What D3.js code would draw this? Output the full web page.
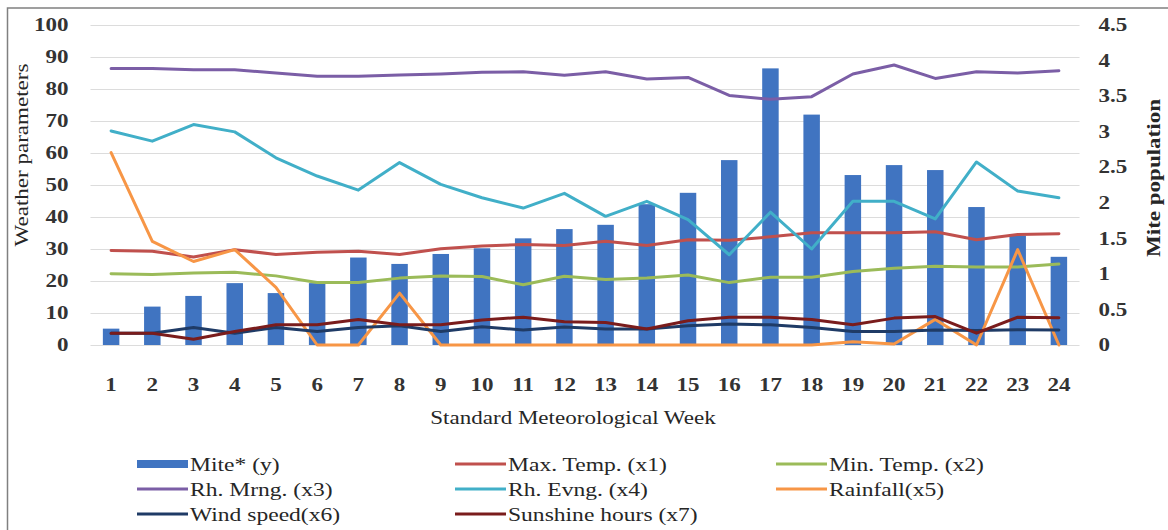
<!DOCTYPE html>
<html>
<head>
<meta charset="utf-8">
<script src="https://cdn.jsdelivr.net/npm/d3@7"></script>
<style>
  body { margin: 0; background: #fff; }
  text { font-family: "Liberation Serif", "Times New Roman", serif; fill: #262626; }
</style>
</head>
<body>
<div id="chart"></div>
<script>
// data
var weeks = d3.range(1, 25).map(String);
var mite = [0.23, 0.54, 0.69, 0.87, 0.73, 0.87, 1.23, 1.14, 1.28, 1.36, 1.50, 1.63,
            1.69, 1.98, 2.14, 2.60, 3.89, 3.24, 2.39, 2.53, 2.46, 1.94, 1.54, 1.24];
var maxTemp = [29.5, 29.3, 27.5, 29.8, 28.3, 29.0, 29.3, 28.3, 30.1, 30.9, 31.4, 31.1,
               32.4, 31.1, 32.9, 32.7, 33.8, 35.1, 35.1, 35.1, 35.4, 32.9, 34.5, 34.8];
var minTemp = [22.3, 22.0, 22.5, 22.7, 21.6, 19.5, 19.5, 20.9, 21.6, 21.4, 18.8, 21.5,
               20.5, 20.9, 21.9, 19.5, 21.2, 21.2, 23.0, 24.0, 24.6, 24.4, 24.4, 25.3];
var rhMrng = [86.4, 86.4, 86.0, 86.0, 85.0, 84.0, 84.0, 84.4, 84.7, 85.2, 85.4, 84.3,
              85.4, 83.1, 83.6, 78.0, 76.8, 77.6, 84.7, 87.5, 83.3, 85.4, 85.0, 85.7];
var rhEvng = [66.9, 63.7, 68.9, 66.6, 58.5, 52.8, 48.4, 57.0, 50.2, 46.0, 42.8, 47.4,
              40.2, 44.9, 39.2, 28.2, 41.5, 30.0, 44.9, 44.9, 39.4, 57.2, 48.1, 46.0];
var rainfall = [60.1, 32.4, 26.1, 29.8, 18.0, 0, 0, 16.2, 0, 0, 0, 0,
                0, 0, 0, 0, 0, 0, 1.0, 0.3, 8.0, 0, 29.8, 0];
var windSpeed = [3.7, 3.7, 5.5, 3.7, 5.5, 4.2, 5.5, 6.0, 4.2, 5.7, 4.7, 5.6,
                 5.0, 5.0, 6.0, 6.6, 6.3, 5.5, 4.2, 4.2, 4.7, 4.5, 4.8, 4.7];
var sunshine = [3.7, 3.7, 1.8, 4.2, 6.3, 6.3, 8.0, 6.3, 6.3, 7.8, 8.7, 7.3,
                7.0, 5.0, 7.6, 8.7, 8.7, 8.0, 6.3, 8.4, 8.9, 3.7, 8.7, 8.5];

var leftTicks = d3.range(0, 101, 10);
var rightTicks = [0, 0.5, 1, 1.5, 2, 2.5, 3, 3.5, 4, 4.5];

var lineSeries = [
  {name: "Max. Temp. (x1)", values: maxTemp, color: "#c0504d"},
  {name: "Min. Temp. (x2)", values: minTemp, color: "#9bbb59"},
  {name: "Rh. Mrng. (x3)", values: rhMrng, color: "#7b5ea6"},
  {name: "Rh. Evng. (x4)", values: rhEvng, color: "#41afc8"},
  {name: "Rainfall(x5)", values: rainfall, color: "#f79646"},
  {name: "Wind speed(x6)", values: windSpeed, color: "#1f3b66"},
  {name: "Sunshine hours (x7)", values: sunshine, color: "#7a1c1c"}
];

var svgWidth = 1168, svgHeight = 530;
var plotLeft = 90.5, plotRight = 1079.5, plotTop = 25, plotBottom = 345;
var sx = 1.28; // wide serif look of the source

var svg = d3.select("#chart").append("svg")
    .attr("width", svgWidth).attr("height", svgHeight);

svg.append("rect").attr("width", svgWidth).attr("height", svgHeight).attr("fill", "#fff");
// frame
svg.append("rect").attr("x", 7.5).attr("y", 8).attr("width", 1300).attr("height", 700)
    .attr("fill", "none").attr("stroke", "#808080").attr("stroke-width", 1.5);

var x = d3.scaleBand().domain(weeks).range([plotLeft, plotRight])
    .paddingInner(0.6).paddingOuter(0.3);
var yL = d3.scaleLinear().domain([0, 100]).range([plotBottom, plotTop]);
var yR = d3.scaleLinear().domain([0, 4.5]).range([plotBottom, plotTop]);

// gridlines
svg.append("g").selectAll("line").data(leftTicks).enter().append("line")
    .attr("x1", plotLeft).attr("x2", plotRight)
    .attr("y1", function(d) { return Math.round(yL(d)) + 0.5; })
    .attr("y2", function(d) { return Math.round(yL(d)) + 0.5; })
    .attr("stroke", "#dcdcdc").attr("stroke-width", 1.2);

// bars
svg.append("g").selectAll("rect").data(mite).enter().append("rect")
    .attr("x", function(d, i) { return x(weeks[i]); })
    .attr("width", x.bandwidth())
    .attr("y", function(d) { return yR(d); })
    .attr("height", function(d) { return plotBottom - yR(d); })
    .attr("fill", "#4074c1");

// lines
var line = d3.line()
    .x(function(d, i) { return x(weeks[i]) + x.bandwidth() / 2; })
    .y(function(d) { return yL(d); });

svg.append("g").selectAll("path").data(lineSeries).enter().append("path")
    .attr("d", function(s) { return line(s.values); })
    .attr("fill", "none")
    .attr("stroke", function(s) { return s.color; })
    .attr("stroke-width", 3)
    .attr("stroke-linejoin", "round")
    .attr("stroke-linecap", "round");

// axes
var gl = svg.append("g").attr("transform", "translate(" + plotLeft + ",0)")
    .call(d3.axisLeft(yL).tickValues(leftTicks).tickSize(0));
gl.select(".domain").remove();
gl.selectAll("text").attr("x", -22 / sx).attr("transform", "scale(" + sx + ",1)");

var gr = svg.append("g").attr("transform", "translate(" + plotRight + ",0)")
    .call(d3.axisRight(yR).tickValues(rightTicks).tickSize(0).tickFormat(d3.format("~g")));
gr.select(".domain").remove();
gr.selectAll("text").attr("x", 19 / sx).attr("transform", "scale(" + sx + ",1)");

var gb = svg.append("g").attr("transform", "translate(0," + plotBottom + ")")
    .call(d3.axisBottom(x).tickSize(0).tickPadding(33));
gb.select(".domain").remove();
gb.selectAll("text").attr("transform", "scale(" + sx + ",1)");

svg.selectAll(".tick text")
    .style("font-family", '"Liberation Serif", serif')
    .style("font-size", "18px")
    .style("font-weight", "bold")
    .style("fill", "#333");

// axis titles
svg.append("g").attr("transform", "translate(22,155) rotate(-90) scale(" + sx + ",1)")
  .append("text").attr("text-anchor", "middle").attr("dy", "0.35em")
    .style("font-size", "18px").text("Weather parameters");

svg.append("g").attr("transform", "translate(1154,178) rotate(-90) scale(" + sx + ",1)")
  .append("text").attr("text-anchor", "middle").attr("dy", "0.35em")
    .style("font-size", "18px").style("font-weight", "bold").text("Mite population");

svg.append("g").attr("transform", "translate(573,418) scale(" + sx + ",1)")
  .append("text").attr("text-anchor", "middle").attr("dy", "0.35em")
    .style("font-size", "18px").text("Standard Meteorological Week");

// legend
var legendItems = [{name: "Mite* (y)", color: "#4074c1", bar: true}].concat(lineSeries);
var colX = [137, 455, 776];
var rowY = [464, 489, 514];
var lsx = 1.24;

var lg = svg.append("g").selectAll("g").data(legendItems).enter().append("g")
    .attr("transform", function(d, i) {
      return "translate(" + colX[i % 3] + "," + rowY[Math.floor(i / 3)] + ")";
    });

lg.each(function(d) {
  var g = d3.select(this);
  if (d.bar) {
    g.append("rect").attr("x", 0).attr("y", -4).attr("width", 51).attr("height", 8)
        .attr("fill", d.color);
  } else {
    g.append("line").attr("x1", 0).attr("x2", 51).attr("y1", 0).attr("y2", 0)
        .attr("stroke", d.color).attr("stroke-width", 3);
  }
  g.append("text").attr("x", 53 / lsx).attr("dy", "0.35em")
      .attr("transform", "scale(" + lsx + ",1)")
      .style("font-size", "19px").text(d.name);
});
</script>
</body>
</html>
